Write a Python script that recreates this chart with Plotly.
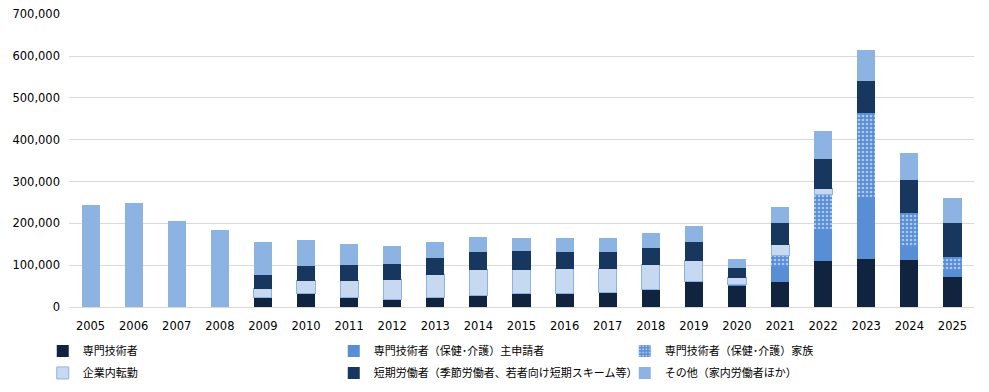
import plotly.graph_objects as go

years = ["2005", "2006", "2007", "2008", "2009", "2010", "2011", "2012", "2013", "2014",
         "2015", "2016", "2017", "2018", "2019", "2020", "2021", "2022", "2023", "2024", "2025"]

senmon = [None, None, None, None, 23000, 31700, 23000, 18300, 23000, 27800,
          31700, 31700, 34000, 41300, 60300, 51600, 58700, 110000, 115000, 112500, 71800]
hoken_main = [None, None, None, None, None, None, None, None, None, None,
              None, None, None, None, None, 2400, 37500, 76600, 148400, 31000, 16800]
hoken_family = [None, None, None, None, None, None, None, None, None, None,
                None, None, None, None, None, None, 27500, 81400, 201000, 81400, 31000]
kigyonai = [None, None, None, None, 20600, 31000, 39700, 46800, 54000, 61000,
            57000, 59500, 57000, 59500, 50000, 16500, 25500, 14400, None, None, None]
tanki = [None, None, None, None, 33300, 35700, 38000, 38000, 40500, 42900,
         45000, 40500, 40500, 40500, 45200, 22500, 52500, 71800, 76600, 79000, 81400]
sonota = [244000, 248000, 205000, 184000, 78600, 62000, 50000, 42900, 38000, 35700,
          31000, 33300, 33300, 35700, 38000, 21500, 38000, 67000, 74200, 64600, 59800]

names = ["専門技術者", "専門技術者（保健･介護）主申請者", "専門技術者（保健･介護）家族",
         "企業内転勤", "短期労働者（季節労働者、若者向け短期スキーム等）", "その他（家内労働者ほか）"]

fig = go.Figure()
fig.add_bar(x=years, y=senmon, name=names[0], legend="legend",
            marker=dict(color="#10243f", line=dict(width=0)))
fig.add_bar(x=years, y=hoken_main, name=names[1], legend="legend",
            marker=dict(color="#588ed5", line=dict(width=0)))
fig.add_bar(x=years, y=hoken_family, name=names[2], legend="legend",
            marker=dict(color="#588ed5", line=dict(width=0),
                        pattern=dict(shape=".", fgcolor="white", size=4, solidity=0.35)))
fig.add_bar(x=years, y=kigyonai, name=names[3], legend="legend2",
            marker=dict(color="#c6d9f1", line=dict(width=1, color="#8db3e2")))
fig.add_bar(x=years, y=tanki, name=names[4], legend="legend2",
            marker=dict(color="#17375e", line=dict(width=0)))
fig.add_bar(x=years, y=sonota, name=names[5], legend="legend2",
            marker=dict(color="#8db3e2", line=dict(width=0)))

leg_common = dict(orientation="h", x=-0.029, xanchor="left", yanchor="middle",
                  entrywidth=246, entrywidthmode="pixels", traceorder="normal",
                  font=dict(family="Noto Sans CJK JP", size=11, color="#000000"),
                  itemclick=False, bgcolor="rgba(0,0,0,0)")

fig.update_layout(
    barmode="stack",
    bargap=0.58,
    width=981, height=384,
    margin=dict(l=61, r=15, t=6, b=85, autoexpand=False),
    plot_bgcolor="white", paper_bgcolor="white",
    font=dict(family="DejaVu Sans", size=11, color="#404040"),
    showlegend=True,
    legend=dict(y=-0.150, **leg_common),
    legend2=dict(y=-0.225, **leg_common),
    xaxis=dict(type="category", showgrid=False, showline=False, ticks="",
               ticklabelstandoff=10,
               tickfont=dict(family="DejaVu Sans", size=11.5, color="#000000")),
    yaxis=dict(range=[0, 700400], tick0=0, dtick=100000, tickformat=",d", showgrid=True,
               gridcolor="#d9d9d9", gridwidth=1, zeroline=True, zerolinecolor="#d9d9d9",
               zerolinewidth=1, showline=False, ticks="", ticklabelstandoff=8,
               ticklabeloverflow="allow",
               tickfont=dict(family="DejaVu Sans", size=11.5, color="#000000")),
)

fig.write_html("out.html")
